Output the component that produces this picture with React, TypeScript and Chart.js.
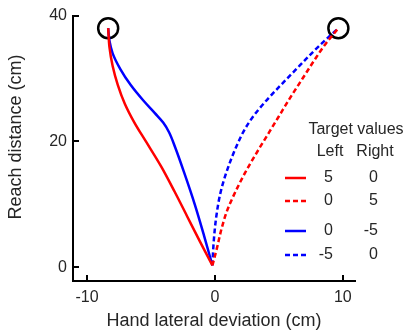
import React, { useEffect, useRef } from 'react';
import { Chart, registerables } from 'chart.js';

Chart.register(...registerables);

// ---- Axis ticks / ranges ----
const X_TICKS = [-10, 0, 10];
const Y_TICKS = [0, 20, 40];
const X_MIN = -11.1;
const X_MAX = 10.95;
const Y_MIN = -2.18;
const Y_MAX = 40;

// ---- Trajectories (x = lateral deviation, y = reach distance) ----
// Red solid: targets Left 5 / Right 0
const redSolidX = [-0.2, -1.15, -2.15, -3.15, -4.2, -5.4, -6.3, -7.05, -7.6, -8.0, -8.25, -8.35];
const redSolidY = [0.3, 4, 8, 12, 16, 20, 23, 26, 29, 32, 35, 38];

// Red dashed: targets Left 0 / Right 5
const redDashX = [-0.2, 0.15, 0.5, 0.95, 1.6, 2.35, 3.2, 4.1, 5.0, 5.9, 6.85, 7.8, 8.65, 9.65];
const redDashY = [0.3, 3, 6, 9, 12, 15, 18, 21, 24, 27, 30, 33, 35.5, 38];

// Blue solid: targets Left 0 / Right -5
const blueSolidX = [-0.2, -0.85, -1.58, -2.4, -3.1, -3.6, -4.05, -4.7, -5.6, -6.6, -7.4, -8.0, -8.25, -8.35];
const blueSolidY = [0.3, 5, 10, 15, 19, 21.5, 23, 24.5, 26.5, 29, 31.5, 34, 36, 38];

// Blue dashed: targets Left -5 / Right 0
const blueDashX = [-0.2, -0.1, 0.1, 0.45, 1.05, 1.85, 2.35, 3.0, 3.8, 4.7, 6.6, 8.05, 9.65];
const blueDashY = [0.3, 4, 8, 12, 16, 20, 22, 24, 26, 28, 32, 35, 38];

// Targets (circles)
const targetX = [-8.35, 9.65];
const targetY = [38, 38];

// Legend table
const legendTitle = 'Target values';
const legendHeaders = ['Left', 'Right'];
const legendLeft = ['5', '0', '0', '-5'];
const legendRight = ['0', '5', '-5', '0'];
const legendColors = ['#ff0000', '#ff0000', '#0000ff', '#0000ff'];
const legendDashed = [false, true, false, true];

const X_TITLE = 'Hand lateral deviation (cm)';
const Y_TITLE = 'Reach distance (cm)';

const FONT = "'Liberation Sans', Arial, Helvetica, sans-serif";
const TEXT = '#262626';

const toPts = (xs: number[], ys: number[]) => xs.map((x, i) => ({ x, y: ys[i] }));

const decorPlugin = {
  id: 'decor',
  afterDraw(chart: any) {
    const ctx = chart.ctx as CanvasRenderingContext2D;
    const area = chart.chartArea;
    const xs = chart.scales.x;
    const ys = chart.scales.y;
    ctx.save();
    // inward ticks
    ctx.strokeStyle = '#000';
    ctx.lineWidth = 2;
    ctx.beginPath();
    X_TICKS.forEach((v) => {
      const px = Math.round(xs.getPixelForValue(v));
      ctx.moveTo(px, area.bottom);
      ctx.lineTo(px, area.bottom - 6);
    });
    Y_TICKS.forEach((v) => {
      const py = Math.round(ys.getPixelForValue(v));
      ctx.moveTo(area.left, py);
      ctx.lineTo(area.left + 6, py);
    });
    ctx.stroke();

    // y-axis title
    ctx.fillStyle = TEXT;
    ctx.font = `18px ${FONT}`;
    ctx.textAlign = 'center';
    ctx.textBaseline = 'middle';
    ctx.save();
    ctx.translate(16, 137);
    ctx.rotate(-Math.PI / 2);
    ctx.fillText(Y_TITLE, 0, 0);
    ctx.restore();

    // legend table
    ctx.font = `16px ${FONT}`;
    ctx.fillStyle = TEXT;
    ctx.textAlign = 'center';
    ctx.fillText(legendTitle, 356, 130);
    ctx.fillText(legendHeaders[0], 330, 152);
    ctx.fillText(legendHeaders[1], 375, 152);
    const rowY = [178, 201, 231, 255];
    legendLeft.forEach((lv, i) => {
      const y = rowY[i];
      ctx.strokeStyle = legendColors[i];
      ctx.lineWidth = 2.5;
      ctx.setLineDash(legendDashed[i] ? [5, 3] : []);
      ctx.beginPath();
      ctx.moveTo(285, y);
      ctx.lineTo(306, y);
      ctx.stroke();
      ctx.setLineDash([]);
      ctx.fillStyle = TEXT;
      ctx.textAlign = 'right';
      ctx.fillText(lv, 333, y);
      ctx.fillText(legendRight[i], 378, y);
    });
    ctx.restore();
  },
};

export default function App() {
  const ref = useRef<HTMLCanvasElement | null>(null);

  useEffect(() => {
    if (!ref.current) return;
    const lineDs = (label: string, xs: number[], ys: number[], color: string, dashed: boolean) => ({
      type: 'line' as const,
      label,
      data: toPts(xs, ys),
      borderColor: color,
      backgroundColor: color,
      borderWidth: 2.5,
      borderDash: dashed ? [5, 3] : [],
      pointRadius: 0,
      fill: false,
      indexAxis: 'y' as const,
      cubicInterpolationMode: 'monotone' as const,
      clip: false as any,
    });

    const chart = new Chart(ref.current, {
      type: 'line',
      data: {
        datasets: [
          lineDs('Left 5 / Right 0', redSolidX, redSolidY, '#ff0000', false),
          lineDs('Left 0 / Right 5', redDashX, redDashY, '#ff0000', true),
          lineDs('Left 0 / Right -5', blueSolidX, blueSolidY, '#0000ff', false),
          lineDs('Left -5 / Right 0', blueDashX, blueDashY, '#0000ff', true),
          {
            type: 'scatter' as const,
            label: 'Targets',
            data: toPts(targetX, targetY),
            pointRadius: 10,
            pointBorderWidth: 2.5,
            pointBorderColor: '#000',
            pointBackgroundColor: 'rgba(0,0,0,0)',
            showLine: false,
            clip: false as any,
          } as any,
        ],
      },
      options: {
        responsive: false,
        animation: false,
        devicePixelRatio: 1,
        layout: { padding: { left: 0, right: 51, top: 10, bottom: 0 } },
        plugins: { legend: { display: false }, tooltip: { enabled: false } },
        scales: {
          x: {
            type: 'linear',
            position: 'bottom',
            min: X_MIN,
            max: X_MAX,
            afterFit: (s: any) => {
              s.height = 52;
            },
            afterBuildTicks: (s: any) => {
              s.ticks = X_TICKS.map((v) => ({ value: v }));
            },
            grid: { display: false, drawTicks: false },
            border: { display: true, color: '#000', width: 2 },
            ticks: {
              padding: 7,
              color: TEXT,
              font: { family: FONT, size: 16 },
              maxRotation: 0,
              autoSkip: false,
            },
            title: {
              display: true,
              text: X_TITLE,
              color: TEXT,
              font: { family: FONT, size: 18 },
              padding: { top: 0, bottom: 1 },
            },
          },
          y: {
            type: 'linear',
            position: 'left',
            min: Y_MIN,
            max: Y_MAX,
            afterFit: (s: any) => {
              s.width = 73;
            },
            afterBuildTicks: (s: any) => {
              s.ticks = Y_TICKS.map((v) => ({ value: v }));
            },
            grid: { display: false, drawTicks: false },
            border: { display: true, color: '#000', width: 2 },
            ticks: {
              padding: 6,
              color: TEXT,
              font: { family: FONT, size: 16 },
              autoSkip: false,
            },
            title: { display: false },
          },
        },
      } as any,
      plugins: [decorPlugin],
    });
    return () => chart.destroy();
  }, []);

  return (
    <div style={{ position: 'absolute', left: 0, top: 0, width: 406, height: 333, background: '#fff' }}>
      <canvas ref={ref} width={406} height={333} style={{ display: 'block', width: 406, height: 333 }} />
    </div>
  );
}
